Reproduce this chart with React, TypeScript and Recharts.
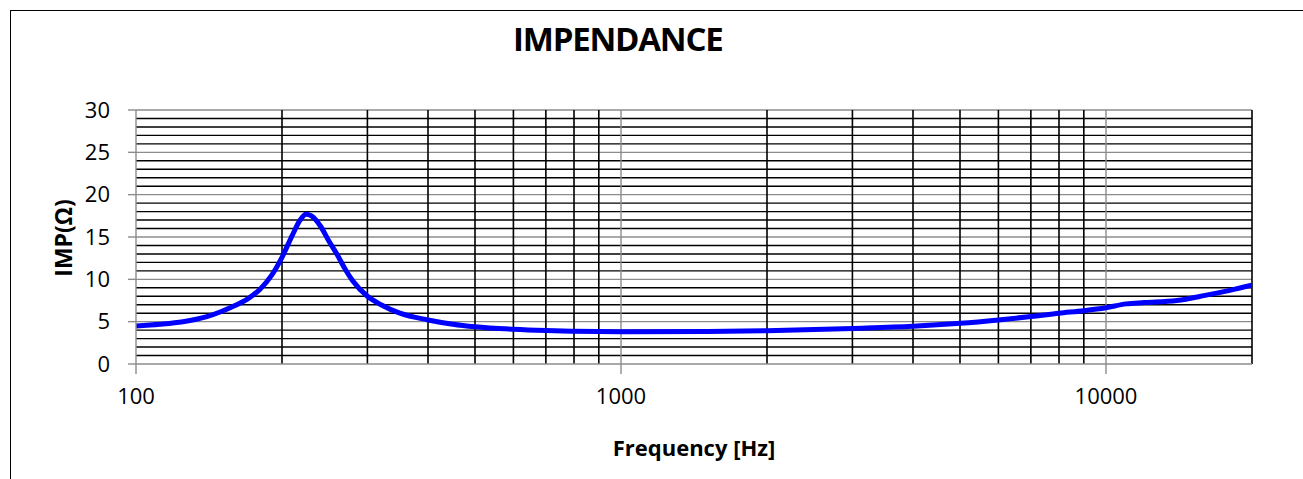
import { LineChart, Line, XAxis, YAxis, ReferenceLine } from 'recharts';

// frequency [Hz] and impedance [ohm]
const freqs = [
  100, 112, 125, 140, 150, 160, 170, 180, 190, 200, 210, 218, 224, 230, 240, 250,
  260, 270, 280, 300, 320, 350, 400, 450, 500, 600, 700, 800, 1000, 1500, 2000,
  3000, 4000, 5000, 6000, 7000, 8000, 9000, 10000, 11000, 12000, 14000, 16000,
  18000, 20000,
];
const imp = [
  4.5, 4.7, 5.0, 5.6, 6.2, 6.9, 7.7, 8.8, 10.4, 12.6, 15.2, 17.0, 17.7, 17.5, 16.3,
  14.5, 12.9, 11.2, 9.8, 8.0, 7.0, 6.0, 5.2, 4.7, 4.4, 4.1, 3.95, 3.87, 3.82, 3.85,
  3.94, 4.2, 4.45, 4.8, 5.2, 5.6, 6.0, 6.3, 6.65, 7.1, 7.25, 7.5, 8.1, 8.7, 9.3,
];

const xTicks = [100, 1000, 10000];
const xMajor = [1000, 10000];
const xMinor = [200, 300, 400, 500, 600, 700, 800, 900, 2000, 3000, 4000, 5000, 6000, 7000, 8000, 9000, 20000];
const yTicks = [0, 5, 10, 15, 20, 25, 30];
const yMinor = [1, 2, 3, 4, 6, 7, 8, 9, 11, 12, 13, 14, 16, 17, 18, 19, 21, 22, 23, 24, 26, 27, 28, 29];

const data = freqs.map((f, i) => ({ f, z: imp[i] }));

const FONT = '"Open Sans", "Noto Sans", sans-serif';

export default function App() {
  return (
    <div style={{ position: 'relative', width: 1303, height: 479, overflow: 'hidden', fontFamily: FONT, background: '#fff' }}>
      <style>{'body{margin:0}'}</style>
      {/* chart frame: only its left and top edges fall inside the picture */}
      <div
        style={{
          position: 'absolute', left: 10, top: 10, right: 0, bottom: 0,
          borderLeft: '1.5px solid #000', borderTop: '1.5px solid #000',
        }}
      />
      <div
        style={{
          position: 'absolute', left: 513, top: 19, fontSize: 33, fontWeight: 700,
          letterSpacing: -1.2, color: '#000', lineHeight: '40px',
        }}
      >
        IMPENDANCE
      </div>
      <div
        style={{
          position: 'absolute', left: 63, top: 238, fontSize: 23, fontWeight: 700,
          transform: 'translate(-50%, -50%) rotate(-90deg)', whiteSpace: 'nowrap', color: '#000',
        }}
      >
        IMP(Ω)
      </div>
      <div
        style={{
          position: 'absolute', left: 694, top: 447, fontSize: 22, fontWeight: 700,
          transform: 'translate(-50%, -50%)', whiteSpace: 'nowrap', color: '#000',
        }}
      >
        Frequency [Hz]
      </div>
      <div style={{ position: 'absolute', left: 0, top: 0 }}>
        <LineChart width={1303} height={479} data={data} margin={{ top: 110, right: 51, bottom: 55, left: 0 }}>
          {yMinor.map((v) => (
            <ReferenceLine key={'ym' + v} y={v} stroke="#000" strokeWidth={1.4} />
          ))}
          {yTicks.slice(1).map((v) => (
            <ReferenceLine key={'yM' + v} y={v} stroke="#8c8c8c" strokeWidth={1.4} />
          ))}
          {xMinor.map((v) => (
            <ReferenceLine key={'xm' + v} x={v} stroke="#000" strokeWidth={1.6} />
          ))}
          {xMajor.map((v) => (
            <ReferenceLine key={'xM' + v} x={v} stroke="#8c8c8c" strokeWidth={1.4} />
          ))}
          <XAxis
            type="number"
            dataKey="f"
            scale="log"
            domain={[100, 20000]}
            ticks={xTicks}
            allowDataOverflow
            height={60}
            tickSize={10}
            tickMargin={14}
            stroke="#8c8c8c"
            strokeWidth={1.4}
            tick={{ fill: '#000', fontSize: 22, fontFamily: FONT }}
            interval={0}
          />
          <YAxis
            type="number"
            domain={[0, 30]}
            ticks={yTicks}
            width={136}
            tickSize={8}
            tickMargin={18}
            stroke="#8c8c8c"
            strokeWidth={1.4}
            tick={{ fill: '#000', fontSize: 22, fontFamily: FONT }}
            interval={0}
          />
          <Line
            type="monotone"
            dataKey="z"
            stroke="#0000ff"
            strokeWidth={5}
            dot={false}
            isAnimationActive={false}
          />
        </LineChart>
      </div>
    </div>
  );
}
